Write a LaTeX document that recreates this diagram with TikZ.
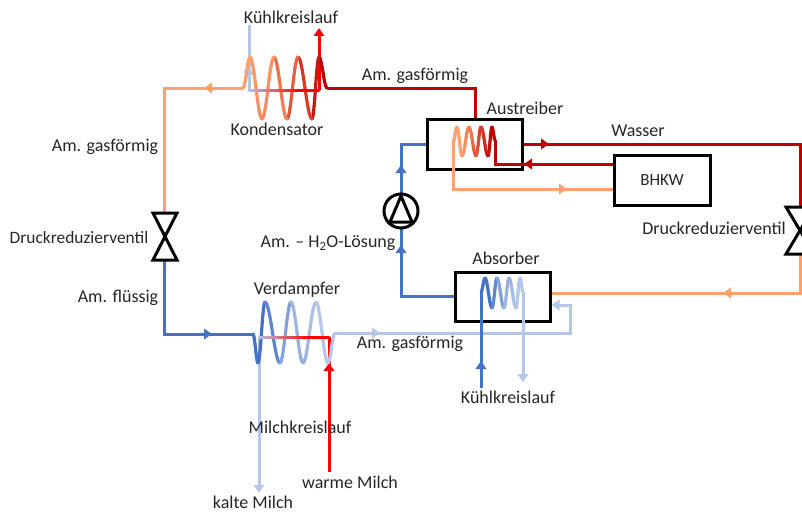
\documentclass[tikz,border=0pt]{standalone}
\usepackage{fontspec}
\setmainfont{Carlito}
\usetikzlibrary{arrows.meta}
\definecolor{cdark}{HTML}{C00000}
\definecolor{cred}{HTML}{FF0000}
\definecolor{corange}{HTML}{FFA06E}
\definecolor{cblue}{HTML}{4472C4}
\definecolor{clight}{HTML}{B4C7E7}
\definecolor{ctext}{HTML}{262626}
\tikzset{
  pipe/.style={line width=3pt,line join=miter},
  tip/.style={pipe,-{Triangle[length=8pt,width=10.5pt]}},
  apparatus/.style={draw=black,line width=3pt,inner sep=0pt},
  symbolline/.style={draw=black,line width=3pt,line join=miter},
  label/.style={text=ctext,font=\fontsize{18}{20}\selectfont,inner sep=0pt}
}
\newcommand{\halfwave}[6]{%
  \foreach \i in {1,...,10}{%
    \pgfmathsetmacro{\ta}{(\i-1)/10}%
    \pgfmathsetmacro{\tb}{\i/10}%
    \pgfmathsetmacro{\xa}{#1+(#3-#1)*\ta}%
    \pgfmathsetmacro{\xb}{#1+(#3-#1)*\tb}%
    \pgfmathsetmacro{\ya}{#2+(#4-#2)*(1-cos(180*\ta))/2}%
    \pgfmathsetmacro{\yb}{#2+(#4-#2)*(1-cos(180*\tb))/2}%
    \pgfmathsetmacro{\mixv}{100*(1-(\ta+\tb)/2)}%
    \draw[line width=3.2pt,line cap=round,color=#5!\mixv!#6] (\xa,\ya) -- (\xb,\yb);
  }%
}
\newcommand{\blendline}[6]{%
  \foreach \i in {1,...,24}{%
    \pgfmathsetmacro{\ta}{(\i-1)/24}%
    \pgfmathsetmacro{\tb}{\i/24}%
    \pgfmathsetmacro{\mixv}{max(0,100*(1-(\ta+\tb)/2*1.35))}%
    \draw[pipe,line cap=round,color=#5!\mixv!#6] ({#1+(#3-#1)*\ta},#2) -- ({#1+(#3-#1)*\tb},#4);
  }%
}
\begin{document}
\begin{tikzpicture}[x=1pt,y=-1pt]
\useasboundingbox (0,0) rectangle (802,511);
% ---- apparatus
\node[apparatus,minimum width=95pt,minimum height=50pt] (aus) at (475,144) {};
\node[apparatus,minimum width=95pt,minimum height=49pt] (abs) at (502.5,296.5) {};
\node[apparatus,minimum width=96pt,minimum height=50pt,font=\fontsize{17}{20}\selectfont,text=ctext] (bhkw) at (662,180) {BHKW};
\node[inner sep=0pt] (pump) at (401,211) {};
\coordinate (pumpT) at (401,194); \coordinate (pumpB) at (401,228);
\coordinate (vlT) at (164,213); \coordinate (vlB) at (164,260);
\coordinate (vrT) at (800,207); \coordinate (vrB) at (800,254);

% ---- condenser
\coordinate (cR) at (327,88);
\draw[pipe,color=cdark] (aus.north) -- (475,88) -- (cR);
\draw[tip,color=corange] (243,88) -- (204,88);
\draw[pipe,color=corange] (208,88) -- (164,88) -- (vlT);
\draw[tip,color=clight] (249,25) -- (249,79);
\draw[pipe,color=clight] (249,75) -- (249,90);
\draw[tip,color=cred] (319,90) -- (319,28);
\halfwave{327}{88}{319}{57}{cdark}{cdark}
\halfwave{319}{57}{312}{119}{cdark}{cdark!85!corange}
\halfwave{312}{119}{298}{57}{cdark!85!corange}{cdark!70!corange}
\halfwave{298}{57}{287}{119}{cdark!70!corange}{cdark!50!corange}
\halfwave{287}{119}{274}{57}{cdark!50!corange}{cdark!35!corange}
\halfwave{274}{57}{262}{119}{cdark!35!corange}{cdark!15!corange}
\halfwave{262}{119}{250}{57}{cdark!15!corange}{corange}
\halfwave{250}{57}{243}{88}{corange}{corange}
\blendline{249}{90}{319}{90}{clight}{cred}

% ---- Austreiber circuit
\draw[tip,color=cdark] (aus.east) -- (549,144);
\draw[pipe,color=cdark] (545,144) -- (800,144) -- (vrT);
\draw[tip,color=cdark] (bhkw.west |- 614,164) -- (524,164);
\draw[pipe,color=cdark] (528,164) -- (495,164) -- (495,140);
\draw[tip,color=corange] (453,142) |- (567,189);
\draw[pipe,color=corange] (563,189) -- (bhkw.west |- 614,189);
\halfwave{453}{142}{457}{127}{corange}{corange}
\halfwave{457}{127}{462}{156}{corange}{corange}
\halfwave{462}{156}{469}{127}{corange}{cdark!25!corange}
\halfwave{469}{127}{476}{156}{cdark!25!corange}{cdark!50!corange}
\halfwave{476}{156}{481}{127}{cdark!50!corange}{cdark!70!corange}
\halfwave{481}{127}{488}{156}{cdark!70!corange}{cdark!85!corange}
\halfwave{488}{156}{492}{127}{cdark!85!corange}{cdark}
\halfwave{492}{127}{495}{140}{cdark}{cdark}

% ---- pump circuit
\draw[tip,color=cblue] (pumpT) -- (401,165);
\draw[pipe,color=cblue] (401,170) -- (401,144) -- (aus.west);
\draw[tip,color=cblue] (abs.west |- 455,296) -- (401,296) -- (401,245);
\draw[pipe,color=cblue] (401,250) -- (pumpB);

% ---- Absorber
\draw[tip,color=corange] (vrB) |- (723,293);
\draw[pipe,color=corange] (727,293) -- (abs.east |- 550,293);
\draw[tip,color=clight] (335,333) -- (380,333);
\draw[pipe,color=clight] (375,333) -- (570,333) -- (570,305);
\draw[tip,color=clight] (571.5,305) -- (abs.east |- 550,305);
\draw[tip,color=cblue] (481,388) -- (481,361);
\draw[pipe,color=cblue] (481,365) -- (481,292);
\draw[tip,color=clight] (523,292) -- (523,382);
\halfwave{481}{292}{485}{278}{cblue}{cblue}
\halfwave{485}{278}{492}{308}{cblue}{cblue}
\halfwave{492}{308}{497}{278}{cblue}{cblue!75!clight}
\halfwave{497}{278}{504}{308}{cblue!75!clight}{cblue!50!clight}
\halfwave{504}{308}{509}{278}{cblue!50!clight}{cblue!30!clight}
\halfwave{509}{278}{516}{308}{cblue!30!clight}{clight}
\halfwave{516}{308}{520}{278}{clight}{clight}
\halfwave{520}{278}{523}{292}{clight}{clight}

% ---- Verdampfer
\draw[pipe,color=cblue] (vlB) -- (164,334) -- (200,334);
\draw[tip,color=cblue] (196,334) -- (212,334);
\draw[pipe,color=cblue] (208,334) -- (253,334);
\draw[tip,color=clight] (259,337) -- (259,493);
\draw[tip,color=cred] (329,472) -- (329,363);
\draw[pipe,color=cred] (329,368) -- (329,337);
\halfwave{253}{334}{258}{363}{cblue}{cblue}
\halfwave{258}{363}{265}{302}{cblue}{cblue}
\halfwave{265}{302}{280}{363}{cblue}{cblue!75!clight}
\halfwave{280}{363}{291}{302}{cblue!75!clight}{cblue!50!clight}
\halfwave{291}{302}{303}{363}{cblue!50!clight}{cblue!30!clight}
\halfwave{303}{363}{316}{302}{cblue!30!clight}{clight}
\halfwave{316}{302}{328}{363}{clight}{clight}
\halfwave{328}{363}{335}{333}{clight}{clight}
\blendline{259}{337}{329}{337}{clight}{cred}

% ---- valves
\draw[symbolline] (153,213) -- (177,213) -- (153,260) -- (177,260) -- cycle;
\draw[symbolline] (786,207) -- (814,207) -- (786,254) -- (814,254) -- cycle;
% ---- pump
\draw[symbolline] (pump) circle (17);
\draw[symbolline] (401,196) -- (390,222) -- (412,222) -- cycle;

% ---- labels
\node[label] (t1) at (291,17) {Kühlkreislauf};
\node[label] (t2) at (277,129) {Kondensator};
\node[label] (t3) at (415,76) {Am. gasförmig};
\node[label] (t4) at (525,108) {Austreiber};
\node[label] (t5) at (638,131) {Wasser};
\node[label] (t6) at (105,147) {Am. gasförmig};
\node[label,font=\fontsize{17.4}{20}\selectfont] (t7) at (79,238) {Druckreduzierventil};
\node[label] (t8) at (714,228) {Druckreduzierventil};
\node[label] (t9) at (328,243) {Am. – H\textsubscript{2}O-Lösung};
\node[label] (t10) at (506,258) {Absorber};
\node[label] (t11) at (297,290) {Verdampfer};
\node[label] (t12) at (118,298) {Am. flüssig};
\node[label] (t13) at (410,344) {Am. gasförmig};
\node[label] (t14) at (508,397) {Kühlkreislauf};
\node[label] (t15) at (300,427) {Milchkreislauf};
\node[label] (t16) at (350,482) {warme Milch};
\node[label] (t17) at (253,502) {kalte Milch};
\end{tikzpicture}
\end{document}
